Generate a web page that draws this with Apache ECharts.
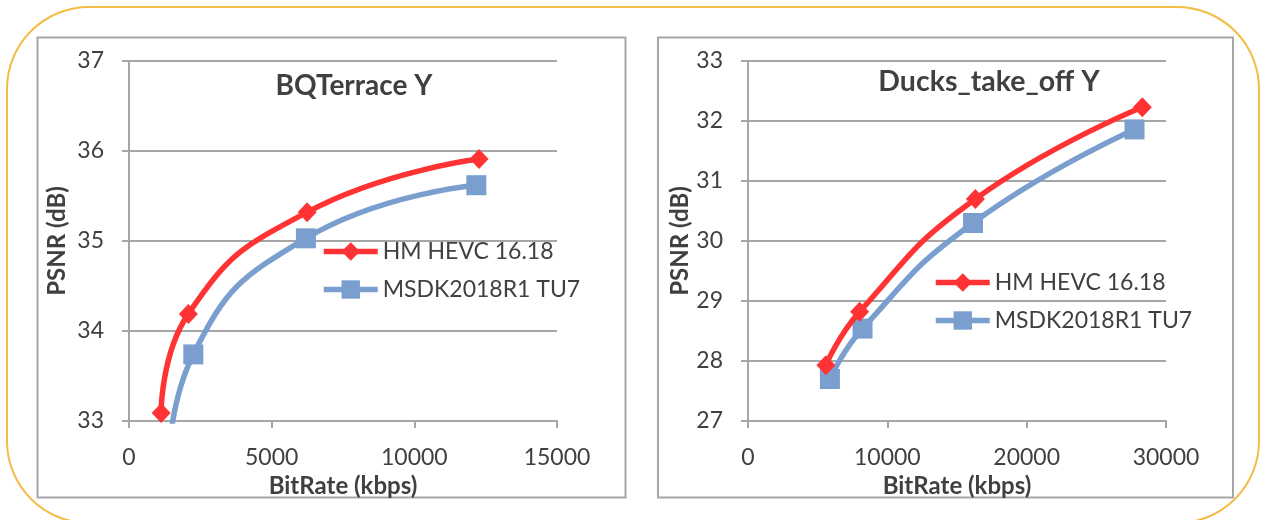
<!DOCTYPE html>
<html>
<head>
<meta charset="utf-8">
<script src="https://cdn.jsdelivr.net/npm/echarts@6/dist/echarts.min.js"></script>
<style>
html,body{margin:0;padding:0;background:#fff;}
#c{width:1262px;height:520px;}
</style>
</head>
<body>
<div id="c"></div>
<script>
// ---- data ----
const seriesNames = ['HM HEVC 16.18', 'MSDK2018R1 TU7'];
const chartTitles = ['BQTerrace Y', 'Ducks_take_off Y'];
const xAxisTitle = 'BitRate (kbps)';
const yAxisTitle = 'PSNR (dB)';

// BQTerrace
const bqHmRate = [1127, 2080, 6242, 12268];
const bqHmPsnr = [33.09, 34.19, 35.32, 35.91];
const bqMsdkRate = [1350, 2254, 6200, 12173];
const bqMsdkPsnr = [32.4, 33.74, 35.03, 35.62];

// Ducks_take_off
const dkHmRate = [5590, 8010, 16320, 28300];
const dkHmPsnr = [27.93, 28.82, 30.70, 32.23];
const dkMsdkRate = [5880, 8220, 16150, 27740];
const dkMsdkPsnr = [27.70, 28.54, 30.30, 31.86];

// axis ranges
const bqX = {min: 0, max: 15000, interval: 5000};
const bqY = {min: 33, max: 37, interval: 1};
const dkX = {min: 0, max: 30000, interval: 10000};
const dkY = {min: 27, max: 33, interval: 1};

// ---- style ----
const FONT = 'Lato';
const TXT = '#404040';
const GRID = '#a6a6a6';
const RED = '#ff3333';
const BLUE = '#7a9fcf';

function pairs(xs, ys) { return xs.map((x, i) => [x, ys[i]]); }

function xAxis(idx, r) {
  return {
    type: 'value', gridIndex: idx, min: r.min, max: r.max, interval: r.interval,
    name: xAxisTitle, nameLocation: 'middle', nameGap: 45,
    nameTextStyle: {fontFamily: FONT, fontSize: 24, fontWeight: 'bold', color: TXT},
    axisLine: {show: true, onZero: false, lineStyle: {color: GRID, width: 2}},
    axisTick: {show: true, length: 7, lineStyle: {color: GRID, width: 2}},
    axisLabel: {fontFamily: FONT, fontSize: 23, color: TXT, margin: 25,
                formatter: v => String(v)},
    splitLine: {show: false}
  };
}
function yAxis(idx, r) {
  return {
    type: 'value', gridIndex: idx, min: r.min, max: r.max, interval: r.interval,
    axisLine: {show: true, onZero: false, lineStyle: {color: GRID, width: 2}},
    axisTick: {show: true, length: 7, lineStyle: {color: GRID, width: 2}},
    axisLabel: {fontFamily: FONT, fontSize: 23, color: TXT, margin: 25,
                formatter: v => String(v)},
    splitLine: {show: true, lineStyle: {color: GRID, width: 2}}
  };
}
function hmSeries(idx, data) {
  return {
    type: 'line', name: seriesNames[0], xAxisIndex: idx, yAxisIndex: idx, data: data,
    smooth: 0.5, clip: true, symbol: 'diamond', symbolSize: [19, 20],
    lineStyle: {color: RED, width: 5.5}, itemStyle: {color: RED}, z: 3
  };
}
function msdkSeries(idx, data) {
  return {
    type: 'line', name: seriesNames[1], xAxisIndex: idx, yAxisIndex: idx, data: data,
    smooth: 0.5, clip: true, symbol: 'rect', symbolSize: 20,
    lineStyle: {color: BLUE, width: 5.5}, itemStyle: {color: BLUE}, z: 2
  };
}
function legend(left, top) {
  return {
    orient: 'vertical', left: left, top: top, padding: 0,
    itemWidth: 54, itemHeight: 23, itemGap: 15,
    data: seriesNames, selectedMode: false,
    lineStyle: {width: 5.5},
    textStyle: {fontFamily: FONT, fontSize: 23, color: TXT}
  };
}
function textEl(x, y, text, size, rot) {
  return {type: 'text', z: 10, silent: true, x: x, y: y, rotation: rot || 0,
    style: {text: text, fontFamily: FONT, fontSize: size, fontWeight: 'bold', fill: TXT,
            align: 'center', verticalAlign: 'middle'}};
}

const chart = echarts.init(document.getElementById('c'), null, {renderer: 'canvas'});
chart.setOption({
  animation: false,
  backgroundColor: '#ffffff',
  grid: [
    {left: 129, top: 61, width: 428, height: 360},
    {left: 748, top: 61, width: 418, height: 360}
  ],
  xAxis: [xAxis(0, bqX), xAxis(1, dkX)],
  yAxis: [yAxis(0, bqY), yAxis(1, dkY)],
  legend: [legend(321, 240), legend(933, 271)],
  series: [
    hmSeries(0, pairs(bqHmRate, bqHmPsnr)),
    msdkSeries(0, pairs(bqMsdkRate, bqMsdkPsnr)),
    hmSeries(1, pairs(dkHmRate, dkHmPsnr)),
    msdkSeries(1, pairs(dkMsdkRate, dkMsdkPsnr))
  ],
  graphic: [
    {type: 'rect', z: -10, silent: true,
     shape: {x: 7, y: 7, width: 1252, height: 516, r: 82},
     style: {fill: null, stroke: '#f3bd45', lineWidth: 2}},
    {type: 'rect', z: -9, silent: true,
     shape: {x: 37.5, y: 37.5, width: 588, height: 460},
     style: {fill: '#ffffff', stroke: GRID, lineWidth: 2}},
    {type: 'rect', z: -9, silent: true,
     shape: {x: 658, y: 37.5, width: 575, height: 460},
     style: {fill: '#ffffff', stroke: GRID, lineWidth: 2}},
    textEl(354, 86, chartTitles[0], 28),
    textEl(989, 82, chartTitles[1], 28.5),
    textEl(57, 241, yAxisTitle, 24, Math.PI / 2),
    textEl(680, 241, yAxisTitle, 24, Math.PI / 2)
  ]
});
</script>
</body>
</html>
